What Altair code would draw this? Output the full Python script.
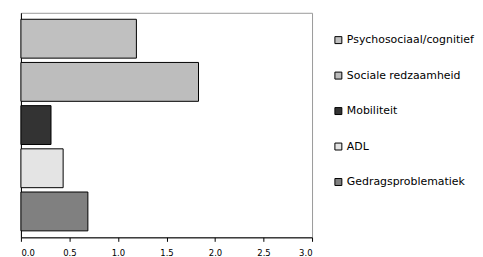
import altair as alt
import pandas as pd

categories = ["Psychosociaal/cognitief", "Sociale redzaamheid", "Mobiliteit", "ADL", "Gedragsproblematiek"]
values = [1.19, 1.83, 0.31, 0.435, 0.69]
colors = ["#c0c0c0", "#bdbdbd", "#333333", "#e4e4e4", "#808080"]
x_ticks = [0.0, 0.5, 1.0, 1.5, 2.0, 2.5, 3.0]

df = pd.DataFrame({"cat": categories, "val": values})

font = "DejaVu Sans"

chart = alt.Chart(df).mark_bar(stroke="#000000", strokeWidth=1).encode(
    x=alt.X("val:Q", scale=alt.Scale(domain=[0, 3], nice=False),
            axis=alt.Axis(values=x_ticks, format=".1f", title=None, grid=False,
                          domainColor="#000000", tickColor="#000000", tickSize=4,
                          labelFont=font, labelFontSize=8.5, labelColor="#000000",
                          labelPadding=7)),
    y=alt.Y("cat:N", sort=categories,
            scale=alt.Scale(paddingInner=0.1, paddingOuter=0.15),
            axis=alt.Axis(labels=False, ticks=False, title=None, domainColor="#000000")),
    fill=alt.Fill("cat:N", sort=categories,
                  scale=alt.Scale(domain=categories, range=colors),
                  legend=alt.Legend(title=None, orient="none", legendX=314, legendY=22,
                                    symbolType="square", symbolSize=49,
                                    symbolStrokeColor="#000000", symbolStrokeWidth=1,
                                    labelFont=font, labelFontSize=11, labelColor="#000000",
                                    labelOffset=3, rowPadding=23.7, labelLimit=200)),
).properties(
    width=293, height=226,
    padding={"left": 12, "top": 4, "right": 0, "bottom": 5},
).configure_view(
    stroke="#999999", strokeWidth=1
)

chart.save("out.html", embed_options={"renderer": "svg", "actions": False})
